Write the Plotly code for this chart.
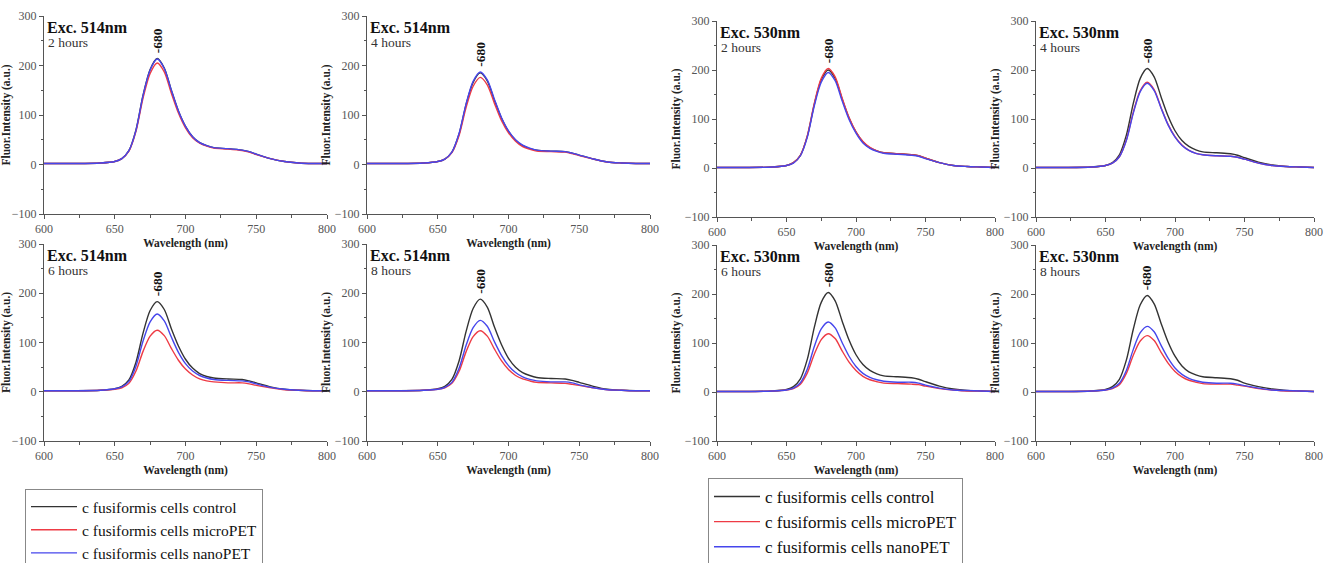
import plotly.graph_objects as go

# ---------------- data ----------------
wavelength = [600, 620, 640, 650, 655, 660, 665, 670, 675, 680, 685, 690, 695, 700,
              705, 710, 715, 720, 730, 740, 745, 750, 760, 770, 780, 790, 800]

series_names = ["c fusiformis cells control", "c fusiformis cells microPET", "c fusiformis cells nanoPET"]

# Exc. 514 nm
exc514_2h_control = [2,2,3,6,12,28,70,140,192,214,195,150,108,77,56,44,38,34,32,29,26,21,12,6,3,2,2]
exc514_2h_micro   = [2,2,3,6,12,27,67,134,184,205,187,144,104,74,54,43,37,33,31,28,25,20,12,6,3,2,2]
exc514_2h_nano    = [2,2,3,6,12,28,69,139,191,213,194,150,108,77,56,44,38,34,32,29,26,21,12,6,3,2,2]

exc514_4h_control = [2,2,3,6,11,25,61,121,166,185,169,130,94,67,49,38,32,29,27,26,23,19,11,5,3,2,2]
exc514_4h_micro   = [2,2,3,6,11,24,58,115,158,176,161,124,89,64,47,36,31,27,26,25,22,18,11,5,3,2,2]
exc514_4h_nano    = [2,2,3,6,11,25,62,122,168,187,171,132,95,68,50,39,33,29,27,26,23,19,11,5,3,2,2]

exc514_6h_control = [2,2,3,6,11,24,60,119,165,183,167,128,93,66,48,37,31,28,26,25,22,18,10,5,3,2,2]
exc514_6h_micro   = [2,2,3,5,8,17,42,82,113,125,114,88,64,46,34,26,22,20,18,18,16,13,8,4,3,2,2]
exc514_6h_nano    = [2,2,3,6,10,21,52,103,142,158,144,111,80,57,42,33,28,25,23,22,20,16,9,5,3,2,2]

exc514_8h_control = [2,2,3,6,11,25,62,122,169,188,172,132,96,68,50,39,33,29,27,26,23,19,11,5,3,2,2]
exc514_8h_micro   = [2,2,3,5,8,17,41,81,112,124,113,87,63,45,33,26,22,19,18,17,15,13,8,4,3,2,2]
exc514_8h_nano    = [2,2,3,5,9,19,47,94,130,145,133,102,74,53,39,30,25,22,20,20,18,14,8,4,3,2,2]

# Exc. 530 nm
exc530_2h_control = [1,1,2,5,11,26,65,130,180,200,183,141,102,73,53,41,35,31,29,27,25,20,11,5,3,2,1]
exc530_2h_micro   = [1,1,2,5,11,26,66,132,183,203,186,143,103,74,54,42,35,31,29,27,25,20,11,5,3,2,1]
exc530_2h_nano    = [1,1,2,5,10,25,63,127,175,195,178,137,99,71,51,40,34,30,28,26,24,19,11,5,3,2,1]

exc530_4h_control = [1,1,2,5,11,27,67,132,183,203,186,145,106,76,56,44,37,33,31,29,26,21,12,6,3,2,1]
exc530_4h_micro   = [1,1,2,5,10,23,57,114,158,175,160,123,89,64,47,36,30,27,25,24,22,18,10,5,3,2,1]
exc530_4h_nano    = [1,1,2,5,10,23,56,112,156,173,158,122,88,63,46,36,30,27,25,24,22,18,10,5,3,2,1]

exc530_6h_control = [1,1,2,5,11,27,67,132,183,203,186,145,106,76,56,44,37,33,31,29,26,21,12,6,3,2,1]
exc530_6h_micro   = [1,1,2,4,7,16,39,77,107,119,109,84,61,44,32,25,21,18,17,16,15,12,7,4,2,2,1]
exc530_6h_nano    = [1,1,2,4,8,19,47,93,129,143,131,101,73,52,38,30,25,22,20,20,18,14,8,4,3,2,1]

exc530_8h_control = [1,1,2,5,11,26,65,128,178,197,180,140,102,73,53,41,35,31,29,27,24,18,11,6,3,2,1]
exc530_8h_micro   = [1,1,2,4,7,15,38,75,104,115,105,81,59,42,31,24,20,17,16,16,14,12,7,4,2,2,1]
exc530_8h_nano    = [1,1,2,4,8,18,44,87,121,134,123,95,69,49,36,28,23,20,18,18,16,13,8,4,3,2,1]

x_ticks = [600, 650, 700, 750, 800]
y_ticks = [-100, 0, 100, 200, 300]
peak_label = "-680"
peak_wavelength = 680

# ---------------- layout ----------------
W, H = 1335, 563
SERIF = "Liberation Serif, Times New Roman, serif"
colors = ["#333333", "#ee3b45", "#4646ec"]

# (excitation, hours, series, column pixel span, row pixel span, legend)
panels = [
    ("Exc. 514nm", "2 hours", [exc514_2h_control, exc514_2h_micro, exc514_2h_nano], (44, 327), (16, 214), "legend"),
    ("Exc. 514nm", "4 hours", [exc514_4h_control, exc514_4h_micro, exc514_4h_nano], (367, 650), (16, 214), None),
    ("Exc. 530nm", "2 hours", [exc530_2h_control, exc530_2h_micro, exc530_2h_nano], (717, 995), (21, 217), "legend2"),
    ("Exc. 530nm", "4 hours", [exc530_4h_control, exc530_4h_micro, exc530_4h_nano], (1036, 1314), (21, 217), None),
    ("Exc. 514nm", "6 hours", [exc514_6h_control, exc514_6h_micro, exc514_6h_nano], (44, 327), (244, 441), None),
    ("Exc. 514nm", "8 hours", [exc514_8h_control, exc514_8h_micro, exc514_8h_nano], (367, 650), (244, 441), None),
    ("Exc. 530nm", "6 hours", [exc530_6h_control, exc530_6h_micro, exc530_6h_nano], (717, 995), (245, 441), None),
    ("Exc. 530nm", "8 hours", [exc530_8h_control, exc530_8h_micro, exc530_8h_nano], (1036, 1314), (245, 441), None),
]

fig = go.Figure()
layout = dict(
    width=W, height=H, autosize=False,
    margin=dict(l=0, r=0, t=0, b=0, autoexpand=False),
    paper_bgcolor="white", plot_bgcolor="white",
    font=dict(family=SERIF, color="#222"),
    annotations=[],
)

for i, (exc, hrs, series, (x0, x1), (y0, y1), leg) in enumerate(panels, start=1):
    xa = "x" if i == 1 else f"x{i}"
    ya = "y" if i == 1 else f"y{i}"
    for name, vals, col in zip(series_names, series, colors):
        tr = dict(x=wavelength, y=vals, mode="lines", name=name,
                  line=dict(color=col, width=1.4, shape="spline", smoothing=0.8),
                  xaxis=xa, yaxis=ya, showlegend=leg is not None)
        if leg is not None:
            tr["legend"] = leg
        fig.add_trace(go.Scatter(**tr))

    axis_common = dict(
        showgrid=False, zeroline=False, showline=True, linecolor="#555", linewidth=1,
        ticks="outside", ticklen=4, tickcolor="#555", tickwidth=1,
        tickfont=dict(family=SERIF, size=12, color="#555"),
        minor=dict(ticks="outside", ticklen=2.5, tickcolor="#555"),
        mirror=False, fixedrange=True,
    )
    layout[f"xaxis{'' if i == 1 else i}"] = dict(
        axis_common, domain=[x0 / W, x1 / W], range=[600, 800],
        tickvals=x_ticks, anchor=ya, minor=dict(axis_common["minor"], dtick=25),
        title=dict(text="<b>Wavelength (nm)</b>", font=dict(family=SERIF, size=11.5, color="#222"), standoff=3),
    )
    layout[f"yaxis{'' if i == 1 else i}"] = dict(
        axis_common, domain=[1 - y1 / H, 1 - y0 / H], range=[-100, 300],
        tickvals=y_ticks, anchor=xa, minor=dict(axis_common["minor"], dtick=50),
        title=dict(text="<b>Fluor.Intensity (a.u.)</b>", font=dict(family=SERIF, size=11.5, color="#222"), standoff=1),
    )
    layout["annotations"] += [
        dict(text=f"<b>{exc}</b>", x=0.002, y=0.94, xref=f"{xa} domain", yref=f"{ya} domain",
             xanchor="left", yanchor="middle", showarrow=False,
             font=dict(family=SERIF, size=16, color="#111")),
        dict(text=hrs, x=0.008, y=0.865, xref=f"{xa} domain", yref=f"{ya} domain",
             xanchor="left", yanchor="middle", showarrow=False,
             font=dict(family=SERIF, size=13.5, color="#333")),
        dict(text=f"<b>{peak_label}</b>", x=peak_wavelength,
             y=max(s[wavelength.index(peak_wavelength)] for s in series),
             xref=xa, yref=ya, textangle=-90, xanchor="center", yanchor="bottom",
             yshift=3, showarrow=False, font=dict(family=SERIF, size=13.5, color="#111")),
    ]

legend_common = dict(
    xanchor="left", yanchor="top", bordercolor="#888", borderwidth=1, bgcolor="white",
    tracegroupgap=0, itemwidth=46, traceorder="normal",
)
layout["legend"] = dict(legend_common, x=25 / W, y=1 - 489 / H,
                        font=dict(family=SERIF, size=15.5, color="#111"))
layout["legend2"] = dict(legend_common, x=708 / W, y=1 - 478 / H,
                         font=dict(family=SERIF, size=17, color="#111"))

fig.update_layout(**layout)
fig.write_html("out.html")
